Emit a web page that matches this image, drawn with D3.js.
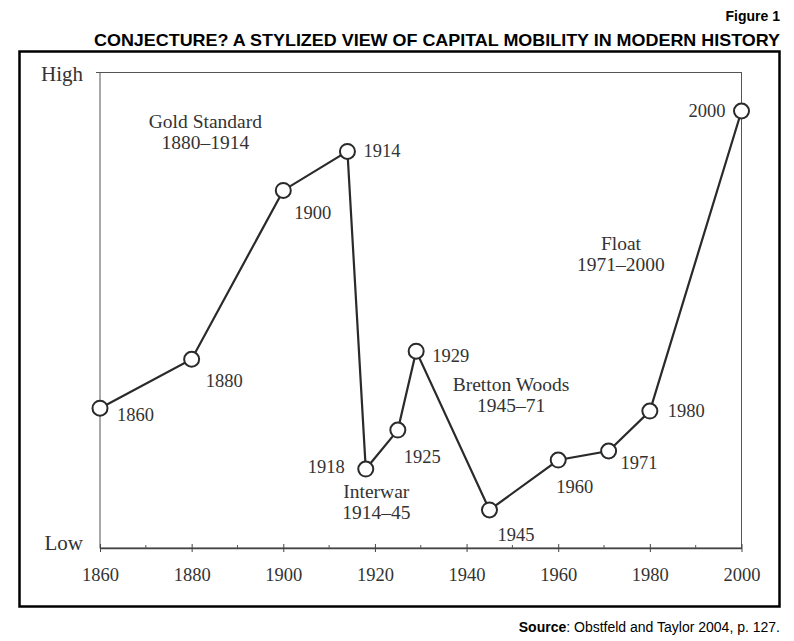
<!DOCTYPE html>
<html><head><meta charset="utf-8">
<script src="https://cdn.jsdelivr.net/npm/d3@7"></script>
<style>body{margin:0;background:#fff}svg{display:block}</style>
</head><body>
<script>
const years = [1860,1880,1900,1914,1918,1925,1929,1945,1960,1971,1980,2000];
const mobility = [2.94,3.97,7.52,8.34,1.66,2.48,4.14,0.80,1.85,2.04,2.88,9.19];
const xTicks = [1860,1880,1900,1920,1940,1960,1980,2000];
const minorTicks = [1870,1890,1910,1930,1950,1970,1990];
const yLabels = ["Low","High"];
const eras = [["Gold Standard","1880–1914"],["Interwar","1914–45"],["Bretton Woods","1945–71"],["Float","1971–2000"]];
const eraYears = [1883, 1920.3, 1949.7, 1973.7];
const eraLevels = [8.95, 1.15, 3.45, 6.5];
// label offsets (layout)
const labelDx = [17,14,11,16,-21,6,16,8,-2,12,18,-16];
const labelDy = [13,28,29,6,4,33,11,31,33,18,6,6];
const labelAnchor = ["start","start","start","start","end","start","start","start","start","start","start","end"];
const eraShift = [6,5,7,11];

const W=794,H=641;
const svg=d3.select("body").append("svg").attr("width",W).attr("height",H);
const x=d3.scaleLinear().domain([1860,2000]).range([100,741.5]);
const y=d3.scaleLinear().domain([0,10]).range([548,72.5]);
const serif="'Liberation Serif','Times New Roman',serif";
const ink="#2a2a2a", txt="#333";

svg.append("text").attr("x",780).attr("y",21).attr("text-anchor","end")
  .attr("font-family","'Liberation Sans',Arial,sans-serif").attr("font-weight","bold").attr("font-size",14).text("Figure 1");
svg.append("text").attr("x",780).attr("y",46).attr("text-anchor","end")
  .attr("font-family","'Liberation Sans',Arial,sans-serif").attr("font-weight","bold").attr("font-size",16.5)
  .attr("textLength",686).attr("lengthAdjust","spacingAndGlyphs")
  .text("CONJECTURE? A STYLIZED VIEW OF CAPITAL MOBILITY IN MODERN HISTORY");
svg.append("rect").attr("x",19.5).attr("y",51.5).attr("width",760).attr("height",555)
  .attr("fill","none").attr("stroke","#000").attr("stroke-width",2.5);

// plot frame
svg.append("rect").attr("x",x(1860)).attr("y",y(10)).attr("width",x(2000)-x(1860)).attr("height",y(0)-y(10))
  .attr("fill","none").attr("stroke","#555").attr("stroke-width",1);
svg.append("line").attr("x1",x(1860)-4).attr("x2",x(1860)).attr("y1",y(10)).attr("y2",y(10)).attr("stroke","#555");

// x axis
const ax=svg.append("g").attr("transform",`translate(0,${y(0)})`)
  .call(d3.axisBottom(x).tickValues(xTicks).tickFormat(d3.format("d")).tickSizeInner(4).tickSizeOuter(0).tickPadding(16));
ax.select(".domain").attr("stroke","#444").attr("stroke-width",1.3);
ax.selectAll(".tick line").attr("stroke","#444").attr("y1",-4).attr("y2",4);
ax.selectAll(".tick text").attr("font-family",serif).attr("font-size",18.5).attr("fill",txt);
svg.append("g").selectAll("line").data(minorTicks).join("line")
  .attr("x1",d=>x(d)).attr("x2",d=>x(d)).attr("y1",y(0)-3).attr("y2",y(0)).attr("stroke","#555");

// y labels
svg.selectAll(".ylab").data(yLabels).join("text").attr("class","ylab")
  .attr("x",83).attr("y",(d,i)=>y(i*10)+ (i? 8:2)).attr("text-anchor","end")
  .attr("font-family",serif).attr("font-size",21).attr("fill",txt).text(d=>d);

// line
const pts=years.map((d,i)=>[d,mobility[i]]);
svg.append("path").datum(pts).attr("fill","none").attr("stroke",ink).attr("stroke-width",2.2)
  .attr("d",d3.line().x(d=>x(d[0])).y(d=>y(d[1])));
svg.selectAll("circle").data(pts).join("circle")
  .attr("cx",d=>x(d[0])).attr("cy",d=>y(d[1])).attr("r",7.5)
  .attr("fill","#fff").attr("stroke",ink).attr("stroke-width",2);

// point labels
svg.selectAll(".plab").data(pts).join("text").attr("class","plab")
  .attr("x",(d,i)=>x(d[0])+labelDx[i]).attr("y",(d,i)=>y(d[1])+labelDy[i])
  .attr("text-anchor",(d,i)=>labelAnchor[i])
  .attr("font-family",serif).attr("font-size",18.5).attr("fill",txt).text(d=>d[0]);

// era labels
eras.forEach((e,i)=>{
  const t=svg.append("text").attr("text-anchor","middle").attr("font-family",serif).attr("font-size",19.5).attr("fill",txt);
  e.forEach((s,j)=>t.append("tspan").attr("x",x(eraYears[i])).attr("y",y(eraLevels[i])+eraShift[i]+j*21).text(s));
});

// source
const s=svg.append("text").attr("x",780).attr("y",632).attr("text-anchor","end")
  .attr("font-family","'Liberation Sans',Arial,sans-serif").attr("font-size",14);
s.append("tspan").attr("font-weight","bold").text("Source");
s.append("tspan").text(": Obstfeld and Taylor 2004, p. 127.");
</script>
</body></html>
